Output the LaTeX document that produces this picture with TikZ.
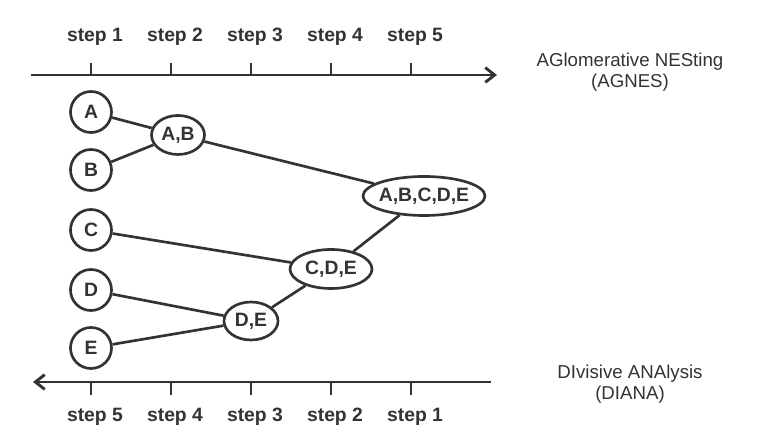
\documentclass[tikz,border=0pt]{standalone}
\usepackage{fontspec}
\setmainfont{Liberation Sans}
\usetikzlibrary{shapes.geometric,arrows.meta}
\definecolor{ink}{HTML}{333333}
\tikzset{
  leaf/.style={circle,draw=ink,line width=2pt,minimum size=41\unitpx,inner sep=0pt,font=\fontsize{14.5}{16}\selectfont\bfseries,text=ink},
  clus/.style={ellipse,draw=ink,line width=2pt,inner sep=0pt,font=\fontsize{14.5}{16}\selectfont\bfseries,text=ink},
  link/.style={draw=ink,line width=2pt},
  axis/.style={draw=ink,line width=2.2pt},
  tick/.style={draw=ink,line width=2pt},
  steplab/.style={font=\fontsize{14.5}{16}\selectfont\bfseries,text=ink},
  sidelab/.style={font=\fontsize{14}{15.5}\selectfont,text=ink,align=center}
}
\newlength{\unitpx}\setlength{\unitpx}{0.75pt}
\begin{document}
\begin{tikzpicture}[x=0.75pt,y=-0.75pt]
\useasboundingbox (0,0) rectangle (776,448);
% top axis
\coordinate (t0) at (31,75);
\coordinate (t1) at (497,75);
\draw[axis,-{Straight Barb[length=7pt,width=11pt,line width=2.2pt]}] (t0) -- (t1);
\foreach \i/\x in {1/91,2/171,3/251,4/331,5/411}{
  \coordinate (ut\i) at (\x,63);
  \coordinate (ub\i) at (\x,75);
  \draw[tick] (ut\i) -- (ub\i);
  \node[steplab] (us\i) at (\x+4,37) {step \i};
}
% bottom axis
\coordinate (b0) at (491,382);
\coordinate (b1) at (33,382);
\draw[axis,-{Straight Barb[length=7pt,width=11pt,line width=2.2pt]}] (b0) -- (b1);
\foreach \i/\x/\s in {1/91/5,2/171/4,3/251/3,4/331/2,5/411/1}{
  \coordinate (lt\i) at (\x,382);
  \coordinate (lb\i) at (\x,395);
  \draw[tick] (lt\i) -- (lb\i);
  \node[steplab] (ls\i) at (\x+4,417) {step \s};
}
% labels
\node[sidelab] (agnes) at (630,72) {AGlomerative NESting\\(AGNES)};
\node[sidelab] (diana) at (630,384) {DIvisive ANAlysis\\(DIANA)};
% nodes
\node[leaf] (A) at (91,112) {A};
\node[leaf] (B) at (91,170) {B};
\node[leaf] (C) at (91,230) {C};
\node[leaf] (D) at (91,290) {D};
\node[leaf] (E) at (91,348) {E};
\node[clus,minimum width=53\unitpx,minimum height=39\unitpx] (AB) at (178,135) {A,B};
\node[clus,inner xsep=-4\unitpx,minimum width=122\unitpx,minimum height=39\unitpx] (ABCDE) at (424,196) {A,B,C,D,E};
\node[clus,minimum width=82\unitpx,minimum height=39\unitpx] (CDE) at (331,269) {C,D,E};
\node[clus,minimum width=54\unitpx,minimum height=38\unitpx] (DE) at (251,321) {D,E};
% links
\draw[link] (A) -- (AB);
\draw[link] (B) -- (AB);
\draw[link] (AB) -- (ABCDE);
\draw[link] (C) -- (CDE);
\draw[link] (CDE) -- (ABCDE);
\draw[link] (D) -- (DE);
\draw[link] (E) -- (DE);
\draw[link] (DE) -- (CDE);
\end{tikzpicture}
\end{document}
